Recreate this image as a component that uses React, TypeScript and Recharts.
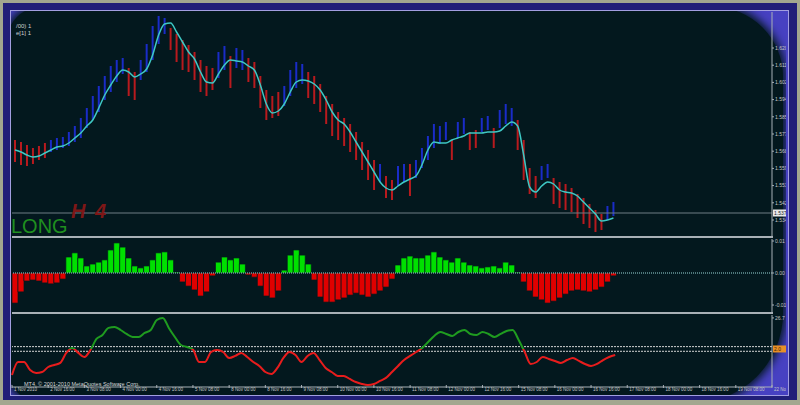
import React, { useMemo } from 'react';
import { ComposedChart, Bar, Line, Cell, XAxis, YAxis, ReferenceLine } from 'recharts';

// H4 price bars (high / low), bull or bear, and the smoothed average drawn over them
const barHigh = [
  1.574, 1.573, 1.5715, 1.570, 1.571, 1.5725, 1.574, 1.575, 1.5755, 1.578,
  1.581, 1.585, 1.590, 1.596, 1.601, 1.606, 1.611, 1.614, 1.615, 1.610,
  1.608, 1.614, 1.622, 1.631, 1.636, 1.635, 1.630, 1.627, 1.624, 1.6215,
  1.618, 1.614, 1.611, 1.610, 1.618, 1.621, 1.616, 1.620, 1.619, 1.615,
  1.613, 1.606, 1.599, 1.596, 1.598, 1.601, 1.609, 1.613, 1.612, 1.608,
  1.606, 1.602, 1.596, 1.592, 1.588, 1.585, 1.582, 1.578, 1.573, 1.569,
  1.564, 1.562, 1.556, 1.554, 1.561, 1.562, 1.562, 1.564, 1.570, 1.576,
  1.582, 1.581, 1.583, 1.574, 1.583, 1.585, 1.578, 1.579, 1.585, 1.586,
  1.580, 1.589, 1.592, 1.590, 1.584, 1.574, 1.560, 1.556, 1.561, 1.562,
  1.555, 1.553, 1.552, 1.550, 1.547, 1.545, 1.542, 1.539, 1.537, 1.541,
  1.543,
];
const barLow = [
  1.563, 1.5615, 1.561, 1.562, 1.564, 1.565, 1.568, 1.569, 1.570, 1.571,
  1.573, 1.575, 1.580, 1.584, 1.588, 1.594, 1.598, 1.603, 1.607, 1.596,
  1.594, 1.604, 1.608, 1.614, 1.622, 1.627, 1.619, 1.613, 1.609, 1.608,
  1.604, 1.598, 1.596, 1.599, 1.605, 1.609, 1.600, 1.610, 1.609, 1.603,
  1.600, 1.590, 1.584, 1.585, 1.586, 1.591, 1.596, 1.600, 1.602, 1.595,
  1.592, 1.588, 1.582, 1.576, 1.574, 1.571, 1.568, 1.564, 1.559, 1.554,
  1.549, 1.553, 1.545, 1.544, 1.551, 1.553, 1.546, 1.555, 1.560, 1.564,
  1.570, 1.572, 1.574, 1.564, 1.575, 1.577, 1.569, 1.570, 1.578, 1.579,
  1.570, 1.580, 1.582, 1.581, 1.569, 1.554, 1.547, 1.545, 1.554, 1.555,
  1.542, 1.540, 1.539, 1.538, 1.535, 1.532, 1.530, 1.528, 1.529, 1.534,
  1.536,
];
// b = bull (blue), r = bear (red)
const barSide =
  'rrrrrrbbbbbbbbbbbbbrrbbbbbrrrrrrrrbbrbbrrrrrrbbbbrrrrrrrrrrrrbrrbbrbbbbbbrbbrrbbrbbbrrrrbbrrrrrrrrrbb';
const maLine = [
  1.5690, 1.5680, 1.5665, 1.5655, 1.5660, 1.5675, 1.5690, 1.5705, 1.5710, 1.5725,
  1.5750, 1.5775, 1.5810, 1.5840, 1.5900, 1.5965, 1.6015, 1.6060, 1.6090, 1.6080,
  1.6055, 1.6070, 1.6095, 1.6165, 1.6265, 1.6320, 1.6325, 1.6280, 1.6230, 1.6180,
  1.6145, 1.6080, 1.6030, 1.6025, 1.6070, 1.6115, 1.6140, 1.6135, 1.6130, 1.6110,
  1.6090, 1.6015, 1.5920, 1.5875, 1.5885, 1.5920, 1.5980, 1.6030, 1.6040, 1.6035,
  1.6020, 1.5990, 1.5940, 1.5880, 1.5840, 1.5820, 1.5780, 1.5730, 1.5680, 1.5630,
  1.5580, 1.5530, 1.5500, 1.5490, 1.5510, 1.5530, 1.5545, 1.5560, 1.5615, 1.5690,
  1.5730, 1.5725, 1.5725, 1.5740, 1.5750, 1.5760, 1.5775, 1.5775, 1.5775, 1.5780,
  1.5780, 1.5785, 1.5810, 1.5830, 1.5810, 1.5665, 1.5505, 1.5480, 1.5510, 1.5530,
  1.5520, 1.5490, 1.5480, 1.5475, 1.5460, 1.5430, 1.5400, 1.5370, 1.5335, 1.5340,
  1.5350,
];
const lastPrice = 1.5375;
const priceTicks = [1.62, 1.6114, 1.6028, 1.5942, 1.5856, 1.577, 1.5684, 1.5598, 1.5512, 1.5426, 1.534];

// histogram indicator
const histValues = [
  -0.0094, -0.0059, -0.0025, -0.0022, -0.0025, -0.0031, -0.0034, -0.0031, -0.0019, 0.0050,
  0.0063, 0.0047, 0.0022, 0.0028, 0.0034, 0.0041, 0.0072, 0.0094, 0.0081, 0.0047,
  0.0022, 0.0016, 0.0022, 0.0041, 0.0063, 0.0066, 0.0041, 0.0003, -0.0028, -0.0041,
  -0.0053, -0.0072, -0.0059, -0.0009, 0.0034, 0.0050, 0.0041, 0.0047, 0.0028, -0.0006,
  -0.0013, -0.0041, -0.0072, -0.0078, -0.0056, 0.0009, 0.0056, 0.0072, 0.0056, 0.0028,
  -0.0022, -0.0075, -0.0091, -0.0091, -0.0084, -0.0078, -0.0069, -0.0063, -0.0069, -0.0075,
  -0.0066, -0.0056, -0.0044, -0.0019, 0.0025, 0.0047, 0.0053, 0.0047, 0.0047, 0.0056,
  0.0066, 0.0050, 0.0041, 0.0034, 0.0047, 0.0034, 0.0025, 0.0022, 0.0016, 0.0019,
  0.0022, 0.0016, 0.0034, 0.0025, 0.0003, -0.0028, -0.0056, -0.0075, -0.0084, -0.0094,
  -0.0088, -0.0078, -0.0066, -0.0056, -0.0053, -0.0056, -0.0059, -0.0053, -0.0044, -0.0028,
  -0.0009,
];
const histTicks = [0.01, 0, -0.01];

// oscillator line
const oscValues = [
  -22.4, -11.2, -11.2, -18.1, -20.6, -19.8, -15.5, -13.8, -12.0, -3.4,
  0.9, -3.4, -6.9, -0.9, 8.6, 12.0, 18.1, 18.9, 16.3, 12.9,
  10.3, 10.3, 13.8, 16.3, 24.9, 26.7, 18.1, 10.3, 3.4, 1.7,
  -0.5, -11.2, -11.2, -2.6, -0.9, -2.6, -7.7, -6.0, -3.4, -6.9,
  -11.2, -14.6, -19.8, -21.5, -16.3, -7.7, -2.6, -5.2, -11.2, -6.0,
  -3.4, -9.5, -16.3, -19.8, -23.2, -23.2, -25.8, -28.4, -30.1, -31.0,
  -30.1, -27.5, -24.9, -19.8, -14.6, -9.5, -6.0, -2.6, 0.9, 6.0,
  11.2, 14.6, 12.9, 11.2, 14.6, 16.3, 12.9, 12.0, 14.6, 12.9,
  10.3, 12.9, 15.5, 16.3, 7.7, -2.6, -12.9, -11.2, -6.9, -8.6,
  -10.3, -12.0, -9.5, -7.7, -10.3, -12.9, -14.6, -12.9, -9.5, -6.9,
  -5.2,
];
const oscLevels = [2, -2];
const oscTicks = [26.7];

// time axis: one label every 6 slots, empty slots to the right of the last bar
const slotCount = 127;
const timeLabels = [
  '1 Nov 2010', '2 Nov 16:00', '3 Nov 08:00', '4 Nov 00:00', '4 Nov 16:00', '5 Nov 08:00',
  '8 Nov 00:00', '8 Nov 16:00', '9 Nov 08:00', '10 Nov 00:00', '10 Nov 16:00', '11 Nov 08:00',
  '12 Nov 00:00', '12 Nov 16:00', '15 Nov 08:00', '16 Nov 00:00', '16 Nov 16:00', '17 Nov 08:00',
  '18 Nov 00:00', '18 Nov 16:00', '19 Nov 08:00', '22 Nov 00:00',
];

const BG = '#03181e';
const AXIS = '#a8b0b6';
const TXT = '#c6c6c6';
const margin = { top: 0, right: 0, bottom: 0, left: 12 };

const Tag = ({ viewBox, text, fill, color }: any) => {
  if (!viewBox) return null;
  const x = viewBox.x + viewBox.width + 1;
  return (
    <g>
      <rect x={x} y={viewBox.y - 3.5} width={14} height={7} fill={fill} />
      <text x={x + 1} y={viewBox.y + 2} fontSize={5} fill={color} fontFamily="Liberation Sans">{text}</text>
    </g>
  );
};

const TimeTick = ({ x, y, payload }: any) => (
  <g>
    <line x1={x} x2={x} y1={y - 2} y2={y + 1} stroke={AXIS} strokeWidth={1} />
    <text x={x + 2} y={y + 4} fontSize={4.5} fill={TXT} fontFamily="Liberation Sans">
      {timeLabels[payload.value / 6] ?? ''}
    </text>
  </g>
);

const App: React.FC = () => {
  const rows = useMemo(() => {
    const data = [];
    for (let i = 0; i < slotCount; i++) {
      if (i < maLine.length) {
        data.push({
          i,
          range: [barLow[i], barHigh[i]],
          ma: maLine[i],
          hist: histValues[i],
          osc: oscValues[i],
        });
      } else {
        data.push({ i });
      }
    }
    return data;
  }, []);

  const oscMax = Math.max(...oscValues);
  const oscMin = Math.min(...oscValues);
  const zeroAt = oscMax / (oscMax - oscMin);

  const yTick = { fontSize: 5, fill: TXT, fontFamily: 'Liberation Sans' };

  return (
    <div style={{ position: 'fixed', left: 0, top: 0, width: 800, height: 405, background: '#a2a78f', overflow: 'hidden' }}>
      {/* window frame */}
      <div style={{ position: 'absolute', left: 3, top: 3, width: 794, height: 397, background: '#211f78' }} />
      <div style={{ position: 'absolute', left: 10, top: 10, width: 777, height: 384, border: '1px solid #a29ee0', background: '#4741c2', overflow: 'hidden' }}>
        <div
          style={{
            position: 'absolute', left: -4, top: -4, width: 776, height: 396, background: BG,
            borderRadius: '34px 70px 90px 36px', boxShadow: `0 0 8px 3px ${BG}`,
          }}
        />
      </div>

      {/* main price panel */}
      <div style={{ position: 'absolute', left: 0, top: 12 }}>
        <ComposedChart width={800} height={225} data={rows} margin={margin} barGap={0}>
          <XAxis dataKey="i" hide />
          <YAxis
            orientation="right" width={28} domain={[1.5255, 1.638]} ticks={priceTicks}
            tickFormatter={(v: number) => v.toFixed(4)} tick={yTick}
            stroke={AXIS} tickSize={2} tickMargin={1} interval={0} allowDataOverflow
          />
          <ReferenceLine y={lastPrice} stroke="#6e7c84" label={(p: any) => <Tag {...p} text={lastPrice.toFixed(4)} fill="#e8e8e8" color="#10202a" />} />
          <Bar dataKey="range" barSize={2} isAnimationActive={false}>
            {rows.map((r, k) => (
              <Cell key={k} fill={barSide[k] === 'b' ? '#1a2cc8' : '#b81a1e'} />
            ))}
          </Bar>
          <Line type="monotone" dataKey="ma" stroke="#3ec8c4" strokeWidth={1.5} dot={false} isAnimationActive={false} />
        </ComposedChart>
      </div>

      {/* histogram panel */}
      <div style={{ position: 'absolute', left: 0, top: 239 }}>
        <ComposedChart width={800} height={74} data={rows} margin={margin} barGap={0} barCategoryGap={0}>
          <XAxis dataKey="i" hide />
          <YAxis
            orientation="right" width={28} domain={[-0.0125, 0.010625]} ticks={histTicks}
            tickFormatter={(v: number) => v.toFixed(2)} tick={yTick}
            stroke={AXIS} tickSize={2} tickMargin={1} interval={0} allowDataOverflow
          />
          <Bar dataKey="hist" stroke={BG} strokeWidth={0.7} isAnimationActive={false}>
            {rows.map((r: any, k) => (
              <Cell key={k} fill={(r.hist ?? 0) >= 0 ? '#00e000' : '#e00000'} />
            ))}
          </Bar>
          <ReferenceLine y={0} stroke="#9ad6d6" strokeDasharray="1 1" />
        </ComposedChart>
      </div>

      {/* oscillator panel */}
      <div style={{ position: 'absolute', left: 0, top: 315 }}>
        <ComposedChart width={800} height={80} data={rows} margin={margin}>
          <defs>
            <linearGradient id="oscSplit" x1="0" y1="0" x2="0" y2="1">
              <stop offset={0} stopColor="#1f9c1f" />
              <stop offset={zeroAt} stopColor="#1f9c1f" />
              <stop offset={zeroAt} stopColor="#e81c1c" />
              <stop offset={1} stopColor="#e81c1c" />
            </linearGradient>
          </defs>
          <XAxis dataKey="i" height={8} interval={5} stroke={AXIS} tickLine={false} tickSize={0} tickMargin={0} tick={<TimeTick />} />
          <YAxis
            orientation="right" width={28} domain={[-32.7, 29.2]} ticks={oscTicks}
            tickFormatter={(v: number) => v.toFixed(1)} tick={yTick}
            stroke={AXIS} tickSize={2} tickMargin={1} interval={0} allowDataOverflow
          />
          {oscLevels.map((lv) => (
            <ReferenceLine key={lv} y={lv} stroke="#d4d4d4" strokeDasharray="2 1" />
          ))}
          <ReferenceLine y={0} stroke="none" label={(p: any) => <Tag {...p} text="2.0" fill="#e89028" color="#402000" />} />
          <Line type="monotone" dataKey="osc" stroke="url(#oscSplit)" strokeWidth={2} dot={false} isAnimationActive={false} />
        </ComposedChart>
      </div>

      {/* panel separators */}
      <div style={{ position: 'absolute', left: 12, top: 236, width: 761, height: 2, background: AXIS }} />
      <div style={{ position: 'absolute', left: 12, top: 312, width: 761, height: 2, background: AXIS }} />

      {/* texts */}
      <div style={{ position: 'absolute', left: 16, top: 23, fontSize: 6, lineHeight: '7px', color: '#d0d0d0', fontFamily: 'Liberation Sans' }}>
        <div>/00) 1</div>
        <div>e[1] 1</div>
      </div>
      <div style={{ position: 'absolute', left: 11, top: 214, fontSize: 20, lineHeight: '24px', color: '#1f8f1f', fontFamily: 'Liberation Sans' }}>
        LONG
      </div>
      <div style={{ position: 'absolute', left: 71, top: 199, fontSize: 20, lineHeight: '24px', color: '#7e1717', fontWeight: 700, fontStyle: 'italic', letterSpacing: 2, fontFamily: 'Liberation Sans' }}>
        H 4
      </div>
      <div style={{ position: 'absolute', left: 24, top: 381, fontSize: 5.5, color: '#d8d8d8', fontFamily: 'Liberation Sans', whiteSpace: 'nowrap' }}>
        MT4, © 2001-2010 MetaQuotes Software Corp.
      </div>

      {/* right edge of the frame drawn over the axis labels */}
      <div style={{ position: 'absolute', left: 786, top: 11, width: 2, height: 384, background: '#4741c2' }} />
      <div style={{ position: 'absolute', left: 788, top: 10, width: 1, height: 386, background: '#a29ee0' }} />
      <div style={{ position: 'absolute', left: 789, top: 3, width: 8, height: 397, background: '#211f78' }} />
      <div style={{ position: 'absolute', left: 797, top: 0, width: 3, height: 405, background: '#a2a78f' }} />
    </div>
  );
};

export default App;
